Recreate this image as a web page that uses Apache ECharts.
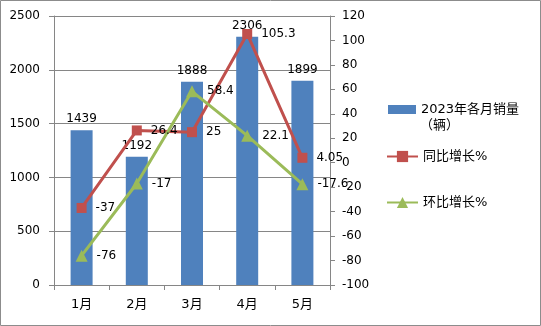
<!DOCTYPE html>
<html>
<head>
<meta charset="utf-8">
<script src="https://cdn.jsdelivr.net/npm/echarts@6/dist/echarts.min.js"></script>
<style>
  html, body { margin: 0; padding: 0; background: #fff; }
  #chart { width: 541px; height: 326px; }
</style>
</head>
<body>
<div id="chart"></div>
<script>
// Monthly sales 2023 with year-on-year and month-on-month growth
const months = ['1月', '2月', '3月', '4月', '5月'];
const sales = [1439, 1192, 1888, 2306, 1899];
const yoyGrowth = [-37, 26.4, 25, 105.3, 4.05];
const momGrowth = [-76, -17, 58.4, 22.1, -17.6];

const salesName = '2023年各月销量';
const salesUnit = '（辆）';
const yoyName = '同比增长%';
const momName = '环比增长%';

const FONT = '"DejaVu Sans", "Noto Sans CJK SC", sans-serif';
const CJK_FONT = '"Noto Sans CJK SC", sans-serif';
const AXIS_GRAY = '#868686';

const chart = echarts.init(document.getElementById('chart'), null, { renderer: 'canvas' });

const legendText = { fontFamily: FONT, fontSize: 13, color: '#000' };

chart.setOption({
  animation: false,
  backgroundColor: '#fff',
  textStyle: { fontFamily: FONT },
  graphic: [
    {
      type: 'rect',
      shape: { x: 0.5, y: 0.5, width: 540, height: 325 },
      style: { fill: 'none', stroke: '#8c8c8c', lineWidth: 1 }
    },
    {
      // second line of the sales legend entry
      type: 'text',
      left: 420, top: 118,
      style: { text: salesUnit, font: '13px ' + CJK_FONT, fill: '#000' }
    }
  ],
  grid: { left: 54, right: 211, top: 16, bottom: 41 },
  legend: [
    {
      data: [salesName], left: 383, top: 98, itemWidth: 28, itemHeight: 9,
      icon: 'rect',
      textStyle: legendText
    },
    {
      data: [yoyName], left: 381, top: 145, itemWidth: 31, itemHeight: 14,
      textStyle: legendText
    },
    {
      data: [momName], left: 381, top: 191, itemWidth: 31, itemHeight: 14,
      textStyle: legendText
    }
  ],
  xAxis: {
    type: 'category',
    data: months,
    boundaryGap: true,
    axisLine: { lineStyle: { color: AXIS_GRAY } },
    axisTick: { show: true, alignWithLabel: false, length: 5, lineStyle: { color: AXIS_GRAY } },
    axisLabel: { color: '#000', fontSize: 13, margin: 13, fontFamily: FONT }
  },
  yAxis: [
    {
      type: 'value', min: 0, max: 2500, interval: 500,
      axisLine: { show: true, lineStyle: { color: AXIS_GRAY } },
      axisTick: { show: true, length: 5, lineStyle: { color: AXIS_GRAY } },
      splitLine: { show: true, lineStyle: { color: AXIS_GRAY, width: 1 } },
      axisLabel: { color: '#000', fontSize: 12, margin: 14, fontFamily: FONT, formatter: v => String(v) }
    },
    {
      type: 'value', min: -100, max: 120, interval: 20,
      axisLine: { show: true, lineStyle: { color: AXIS_GRAY } },
      axisTick: { show: true, length: 5, lineStyle: { color: AXIS_GRAY } },
      splitLine: { show: false },
      axisLabel: { color: '#000', fontSize: 12, margin: 12, fontFamily: FONT, formatter: v => String(v) }
    }
  ],
  series: [
    {
      name: salesName,
      type: 'bar',
      data: sales,
      barWidth: 22,
      itemStyle: { color: '#4F81BD' },
      label: { show: true, position: 'top', distance: 5, color: '#000', fontSize: 12, fontFamily: FONT }
    },
    {
      name: yoyName,
      type: 'line',
      yAxisIndex: 1,
      data: yoyGrowth,
      symbol: 'rect',
      symbolSize: 10,
      lineStyle: { color: '#C0504D', width: 3 },
      itemStyle: { color: '#C0504D' },
      label: { show: true, position: 'right', distance: 9, color: '#000', fontSize: 12, fontFamily: FONT }
    },
    {
      name: momName,
      type: 'line',
      yAxisIndex: 1,
      data: momGrowth,
      symbol: 'triangle',
      symbolSize: 12,
      lineStyle: { color: '#9BBB59', width: 3 },
      itemStyle: { color: '#9BBB59' },
      label: { show: true, position: 'right', distance: 9, color: '#000', fontSize: 12, fontFamily: FONT }
    }
  ]
});
</script>
</body>
</html>
